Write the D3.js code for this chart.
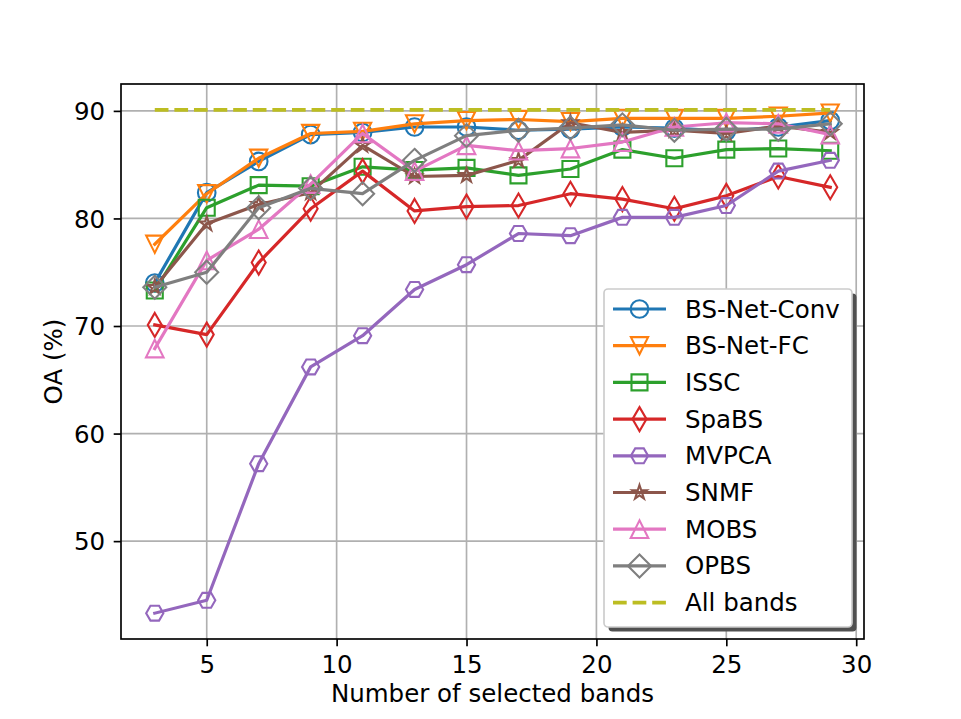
<!DOCTYPE html>
<html>
<head>
<meta charset="utf-8">
<script src="https://cdn.jsdelivr.net/npm/d3@7"></script>
<style>
  html, body { margin: 0; padding: 0; background: #fff; }
  svg { display: block; font-family: "DejaVu Sans", sans-serif; }
</style>
</head>
<body>
<svg id="chart" width="961" height="719"></svg>
<script>
// ---------- data ----------
const bands = [3, 5, 7, 9, 11, 13, 15, 17, 19, 21, 23, 25, 27, 29];
const bsNetConv = [74.0, 82.4, 85.3, 87.8, 88.0, 88.5, 88.5, 88.2, 88.3, 88.5, 88.4, 88.1, 88.5, 89.1];
const bsNetFC   = [77.6, 82.3, 85.6, 87.9, 88.1, 88.8, 89.1, 89.2, 89.0, 89.3, 89.3, 89.3, 89.5, 89.8];
const issc      = [73.3, 81.0, 83.1, 83.0, 84.8, 84.5, 84.7, 84.0, 84.6, 86.4, 85.6, 86.4, 86.5, 86.3];
const spabs     = [70.1, 69.2, 75.9, 80.9, 84.4, 80.7, 81.1, 81.2, 82.3, 81.8, 80.9, 82.1, 83.9, 82.9];
const mvpca     = [43.3, 44.5, 57.2, 66.2, 69.1, 73.4, 75.7, 78.6, 78.4, 80.1, 80.1, 81.2, 84.4, 85.4];
const snmf      = [73.6, 79.5, 81.3, 82.4, 86.8, 83.9, 84.0, 85.4, 88.9, 88.0, 88.2, 87.9, 88.6, 88.0];
const mobs      = [67.9, 76.1, 79.0, 83.2, 87.9, 84.4, 86.8, 86.3, 86.5, 87.1, 88.5, 88.9, 88.8, 87.8];
const opbs      = [73.6, 75.0, 81.0, 82.8, 82.3, 85.4, 87.7, 88.2, 88.4, 88.7, 88.2, 88.3, 88.3, 88.8];
const allBands  = [90.1, 90.1];
const allBandsX = [3, 29];
const seriesNames = ["BS-Net-Conv", "BS-Net-FC", "ISSC", "SpaBS", "MVPCA", "SNMF", "MOBS", "OPBS"];
const seriesValues = [bsNetConv, bsNetFC, issc, spabs, mvpca, snmf, mobs, opbs];
const allBandsName = "All bands";
const xTicks = [5, 10, 15, 20, 25, 30];
const yTicks = [50, 60, 70, 80, 90];
const xLabel = "Number of selected bands";
const yLabel = "OA (%)";

// ---------- styles ----------
const colors = ["#1f77b4", "#ff7f0e", "#2ca02c", "#d62728", "#9467bd", "#8c564b", "#e377c2", "#7f7f7f"];
const markers = ["circle", "triDown", "square", "thinDiamond", "hexagon", "star", "triUp", "diamond"];
const allColor = "#bcbd22";

function markerPath(type) {
  const p = d3.path();
  const poly = pts => { pts.forEach((q, i) => i ? p.lineTo(q[0], q[1]) : p.moveTo(q[0], q[1])); p.closePath(); };
  switch (type) {
    case "circle": { const r = 8.8; p.moveTo(r, 0); p.arc(0, 0, r, 0, 2 * Math.PI); p.closePath(); break; }
    case "triDown": { const s = 8.6; poly([[0, s], [-s, -s], [s, -s]]); break; }
    case "triUp": { const s = 8.8; poly([[0, -s], [-s, s], [s, s]]); break; }
    case "square": { const s = 8.0; poly([[-s, -s], [s, -s], [s, s], [-s, s]]); break; }
    case "thinDiamond": { poly([[0, -12], [7, 0], [0, 12], [-7, 0]]); break; }
    case "diamond": { const s = 11.5; poly([[0, -s], [s, 0], [0, s], [-s, 0]]); break; }
    case "hexagon": { const r = 8.6; const pts = []; for (let i = 0; i < 6; i++) { const a = i * Math.PI / 3; pts.push([r * Math.cos(a), r * Math.sin(a)]); } poly(pts); break; }
    case "star": { const R = 7.5, r0 = R * 0.382; const pts = []; for (let i = 0; i < 10; i++) { const a = -Math.PI / 2 + i * Math.PI / 5; const rr = i % 2 ? r0 : R; pts.push([rr * Math.cos(a), rr * Math.sin(a)]); } poly(pts); break; }
  }
  return p.toString();
}

// ---------- layout ----------
const svg = d3.select("#chart");
const L = 121, R = 864, T = 84, B = 639;
const x = d3.scaleLinear().domain([1.7, 30.3]).range([L, R]);
const y = d3.scaleLinear().domain([40.9, 92.5]).range([B, T]);
const fs = 24.5;

// grid
const grid = svg.append("g");
grid.selectAll("line.gx").data(xTicks).enter().append("line")
  .attr("x1", d => x(d)).attr("x2", d => x(d)).attr("y1", T).attr("y2", B)
  .attr("stroke", "#b0b0b0").attr("stroke-width", 1.67);
grid.selectAll("line.gy").data(yTicks).enter().append("line")
  .attr("y1", d => y(d)).attr("y2", d => y(d)).attr("x1", L).attr("x2", R)
  .attr("stroke", "#b0b0b0").attr("stroke-width", 1.67);

// series
const line = d3.line().x(d => x(d[0])).y(d => y(d[1]));
seriesValues.forEach((vals, i) => {
  const pts = bands.map((b, j) => [b, vals[j]]);
  const g = svg.append("g");
  g.append("path").attr("d", line(pts)).attr("fill", "none")
    .attr("stroke", colors[i]).attr("stroke-width", 3.2).attr("stroke-linejoin", "round").attr("stroke-linecap", "square");
  g.selectAll("path.m").data(pts).enter().append("path")
    .attr("d", markerPath(markers[i]))
    .attr("transform", d => `translate(${x(d[0])},${y(d[1])})`)
    .attr("fill", "none").attr("stroke", colors[i]).attr("stroke-width", 2.1);
});
svg.append("path").attr("d", line(allBandsX.map((b, j) => [b, allBands[j]])))
  .attr("fill", "none").attr("stroke", allColor).attr("stroke-width", 3.7)
  .attr("stroke-dasharray", "13.7,5.9");

// axes
const xAxis = svg.append("g").attr("transform", `translate(0,${B})`)
  .call(d3.axisBottom(x).tickValues(xTicks).tickSize(7.3).tickPadding(7.3).tickFormat(d3.format("d")));
const yAxis = svg.append("g").attr("transform", `translate(${L},0)`)
  .call(d3.axisLeft(y).tickValues(yTicks).tickSize(7.3).tickPadding(8.5).tickFormat(d3.format("d")));
[xAxis, yAxis].forEach(a => {
  a.select(".domain").remove();
  a.selectAll(".tick line").attr("stroke", "#000").attr("stroke-width", 1.67);
  a.selectAll(".tick text").attr("font-size", fs).attr("font-family", "DejaVu Sans").attr("fill", "#000");
});
xAxis.selectAll(".tick text").attr("y", 33.7).attr("dy", 0);
yAxis.selectAll(".tick text").attr("dy", "0.36em");

// spines
svg.append("rect").attr("x", L).attr("y", T).attr("width", R - L).attr("height", B - T)
  .attr("fill", "none").attr("stroke", "#000").attr("stroke-width", 1.67);

// labels
svg.append("text").attr("x", (L + R) / 2).attr("y", 702).attr("text-anchor", "middle")
  .attr("font-size", fs).text(xLabel);
svg.append("text").attr("transform", `translate(62,${(T + B) / 2}) rotate(-90)`)
  .attr("text-anchor", "middle").attr("font-size", fs).text(yLabel);

// legend
const lg = svg.append("g");
const lx = 604, ly = 289, lw = 248, lh = 338;
lg.append("rect").attr("x", lx + 4.5).attr("y", ly + 4.5).attr("width", lw).attr("height", lh)
  .attr("rx", 4).attr("fill", "#505050");
lg.append("rect").attr("x", lx).attr("y", ly).attr("width", lw).attr("height", lh)
  .attr("rx", 4).attr("fill", "#fff").attr("stroke", "#cccccc").attr("stroke-width", 1.67);
const rowY = i => 309 + i * 36.7;
seriesNames.forEach((name, i) => {
  const cy = rowY(i);
  lg.append("line").attr("x1", 613).attr("x2", 666).attr("y1", cy).attr("y2", cy)
    .attr("stroke", colors[i]).attr("stroke-width", 3.2);
  lg.append("path").attr("d", markerPath(markers[i])).attr("transform", `translate(639.5,${cy})`)
    .attr("fill", "none").attr("stroke", colors[i]).attr("stroke-width", 2.1);
  lg.append("text").attr("x", 685).attr("y", cy + 8.5).attr("font-size", fs).text(name);
});
{
  const cy = rowY(8);
  lg.append("line").attr("x1", 613).attr("x2", 666).attr("y1", cy).attr("y2", cy)
    .attr("stroke", allColor).attr("stroke-width", 3.7).attr("stroke-dasharray", "13.7,5.9");
  lg.append("text").attr("x", 685).attr("y", cy + 8.5).attr("font-size", fs).text(allBandsName);
}
</script>
</body>
</html>
